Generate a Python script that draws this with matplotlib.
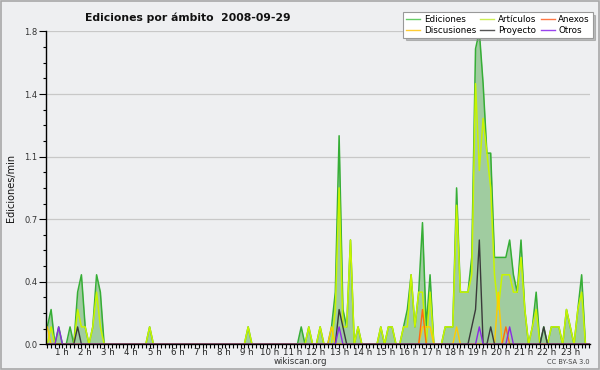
import matplotlib
matplotlib.use("Agg")
import matplotlib.pyplot as plt
import numpy as np
from matplotlib.patches import Rectangle

# 10-minute bins over the day (144 bins), values in edits/min
ediciones = [
    0.1, 0.2, 0.0, 0.1, 0.0, 0.0,   # 0h
    0.1, 0.0, 0.3, 0.4, 0.1, 0.0,   # 1h
    0.1, 0.4, 0.3, 0.0, 0.0, 0.0,   # 2h
    0.0, 0.0, 0.0, 0.0, 0.0, 0.0,   # 3h
    0.0, 0.0, 0.0, 0.1, 0.0, 0.0,   # 4h
    0.0, 0.0, 0.0, 0.0, 0.0, 0.0,   # 5h
    0.0, 0.0, 0.0, 0.0, 0.0, 0.0,   # 6h
    0.0, 0.0, 0.0, 0.0, 0.0, 0.0,   # 7h
    0.0, 0.0, 0.0, 0.0, 0.0, 0.1,   # 8h
    0.0, 0.0, 0.0, 0.0, 0.0, 0.0,   # 9h
    0.0, 0.0, 0.0, 0.0, 0.0, 0.0,   # 10h
    0.0, 0.1, 0.0, 0.1, 0.0, 0.0,   # 11h
    0.1, 0.0, 0.0, 0.1, 0.3, 1.2,   # 12h
    0.2, 0.1, 0.6, 0.0, 0.1, 0.0,   # 13h
    0.0, 0.0, 0.0, 0.0, 0.1, 0.0,   # 14h
    0.1, 0.1, 0.0, 0.0, 0.1, 0.2,   # 15h
    0.4, 0.1, 0.3, 0.7, 0.1, 0.4,   # 16h
    0.0, 0.0, 0.0, 0.1, 0.1, 0.1,   # 17h
    0.9, 0.3, 0.3, 0.3, 0.5, 1.7,   # 18h
    1.8, 1.5, 1.1, 1.1, 0.5, 0.5,   # 19h
    0.5, 0.5, 0.6, 0.4, 0.3, 0.6,   # 20h
    0.2, 0.0, 0.1, 0.3, 0.0, 0.1,   # 21h
    0.0, 0.1, 0.1, 0.1, 0.0, 0.2,   # 22h
    0.1, 0.0, 0.2, 0.4, 0.0, 0.0,   # 23h
]
articulos = [
    0.0, 0.1, 0.0, 0.0, 0.0, 0.0,
    0.0, 0.0, 0.2, 0.1, 0.1, 0.0,
    0.1, 0.3, 0.1, 0.0, 0.0, 0.0,
    0.0, 0.0, 0.0, 0.0, 0.0, 0.0,
    0.0, 0.0, 0.0, 0.1, 0.0, 0.0,
    0.0, 0.0, 0.0, 0.0, 0.0, 0.0,
    0.0, 0.0, 0.0, 0.0, 0.0, 0.0,
    0.0, 0.0, 0.0, 0.0, 0.0, 0.0,
    0.0, 0.0, 0.0, 0.0, 0.0, 0.1,
    0.0, 0.0, 0.0, 0.0, 0.0, 0.0,
    0.0, 0.0, 0.0, 0.0, 0.0, 0.0,
    0.0, 0.0, 0.0, 0.1, 0.0, 0.0,
    0.1, 0.0, 0.0, 0.0, 0.2, 0.9,
    0.1, 0.1, 0.6, 0.0, 0.1, 0.0,
    0.0, 0.0, 0.0, 0.0, 0.1, 0.0,
    0.1, 0.1, 0.0, 0.0, 0.1, 0.1,
    0.4, 0.1, 0.3, 0.3, 0.0, 0.3,
    0.0, 0.0, 0.0, 0.1, 0.1, 0.1,
    0.8, 0.3, 0.3, 0.3, 0.4, 1.5,
    1.0, 1.3, 1.1, 0.9, 0.4, 0.2,
    0.4, 0.4, 0.4, 0.3, 0.3, 0.5,
    0.2, 0.0, 0.1, 0.2, 0.0, 0.0,
    0.0, 0.1, 0.1, 0.1, 0.0, 0.2,
    0.1, 0.0, 0.2, 0.3, 0.0, 0.0,
]
discusiones = [0.0] * 144
for b, v in [(0, 0.1), (75, 0.1), (99, 0.1), (100, 0.1), (101, 0.1), (108, 0.1), (119, 0.3)]:
    discusiones[b] = v
anexos = [0.0] * 144
for b, v in [(99, 0.2), (121, 0.1)]:
    anexos[b] = v
proyecto = [0.0] * 144
for b, v in [(8, 0.1), (77, 0.2), (78, 0.1), (112, 0.1), (113, 0.2), (114, 0.6), (117, 0.1), (131, 0.1)]:
    proyecto[b] = v
otros = [0.0] * 144
for b, v in [(3, 0.1), (77, 0.1), (114, 0.1), (122, 0.1)]:
    otros[b] = v

hour_labels = [f"{h} h" for h in range(1, 24)]
ytick_values = [0.0, 0.36, 0.72, 1.08, 1.44, 1.8]

BG = "#eeeff1"
fig = plt.figure(figsize=(6, 3.7), dpi=100)
fig.patch.set_facecolor(BG)
ax = fig.add_axes([0.0762, 0.0695, 0.9071, 0.8454])
ax.set_facecolor(BG)

x = np.arange(len(ediciones))
ax.fill_between(x, 0, ediciones, color="#a0cca0", lw=0, zorder=1)
ax.plot(x, ediciones, color="#36ae36", lw=1.1, zorder=2)
ax.plot(x, articulos, color="#c8f500", lw=1.1, zorder=2.1)
ax.plot(x, discusiones, color="#ffcc00", lw=1.0, zorder=2.2)
ax.plot(x, anexos, color="#ff6a10", lw=1.0, zorder=2.3)
ax.plot(x, proyecto, color="#3a3a3a", lw=1.0, zorder=2.4)
ax.plot(x, otros, color="#8a2be2", lw=1.0, zorder=2.5)

ax.set_xlim(-0.42, 143.2)
ax.set_ylim(0, 1.8)

for s in ["top", "right"]:
    ax.spines[s].set_visible(False)
for s in ["left", "bottom"]:
    ax.spines[s].set_color("black")
    ax.spines[s].set_linewidth(1.0)
    ax.spines[s].set_zorder(5)

ax.set_yticks(ytick_values)
ax.set_yticklabels([f"{v:.1f}" for v in ytick_values], fontsize=6, color="#333333")
ax.set_yticks(np.arange(0, 1.8001, 0.09), minor=True)
ax.tick_params(axis="y", which="major", length=5, width=0.8, pad=1)
ax.tick_params(axis="y", which="minor", length=2.5, width=0.8)
ax.grid(axis="y", which="major", color="#c8c8c8", lw=0.9)
ax.set_axisbelow(True)

ax.set_xticks(x, minor=True)
ax.set_xticks([])
ax.tick_params(axis="x", which="minor", length=3, width=0.8, direction="out")
for i, lab in enumerate(hour_labels):
    h = i + 1
    px = 38.9 + 23.1 * h
    xd = (px - 47.3) / 3.79
    ax.text(xd, -0.012, lab, transform=ax.get_xaxis_transform(), ha="center", va="top",
            fontsize=6.2, color="#222222")

ax.set_ylabel("Ediciones/min", fontsize=7, labelpad=6, color="#111111")

fig.text(0.313, 0.953, "Ediciones por ámbito  2008-09-29", fontsize=7.8, fontweight="bold",
         ha="center", va="center", color="#111111")
fig.text(0.5, 0.024, "wikiscan.org", fontsize=6.2, ha="center", va="center", color="#333333")
fig.text(0.982, 0.022, "CC BY-SA 3.0", fontsize=4.8, ha="right", va="center", color="#444444")

handles = []
names = ["Ediciones", "Discusiones", "Artículos", "Proyecto", "Anexos", "Otros"]
cols = ["#66cc66", "#ffcc33", "#ccee55", "#555555", "#ff7744", "#9944ee"]
for n, c in zip(names, cols):
    h, = ax.plot([], [], color=c, lw=1.0, label=n)
    handles.append(h)
leg = ax.legend(handles=handles, ncol=3, loc="upper right", bbox_to_anchor=(1.005, 1.063),
                fontsize=6.3, frameon=True, fancybox=False, shadow={"color": "#888888"},
                handlelength=1.6, handletextpad=0.4, columnspacing=0.5, labelspacing=0.2,
                borderpad=0.35, borderaxespad=0.0)
leg.get_frame().set_edgecolor("#999999")
leg.get_frame().set_linewidth(0.8)
leg.set_zorder(10)

fig.add_artist(Rectangle((0.001, 0.002), 0.997, 0.995, transform=fig.transFigure,
                         fill=False, edgecolor="#a8a8a8", lw=1.2))

fig.savefig("out.png", dpi=100, facecolor=BG)
